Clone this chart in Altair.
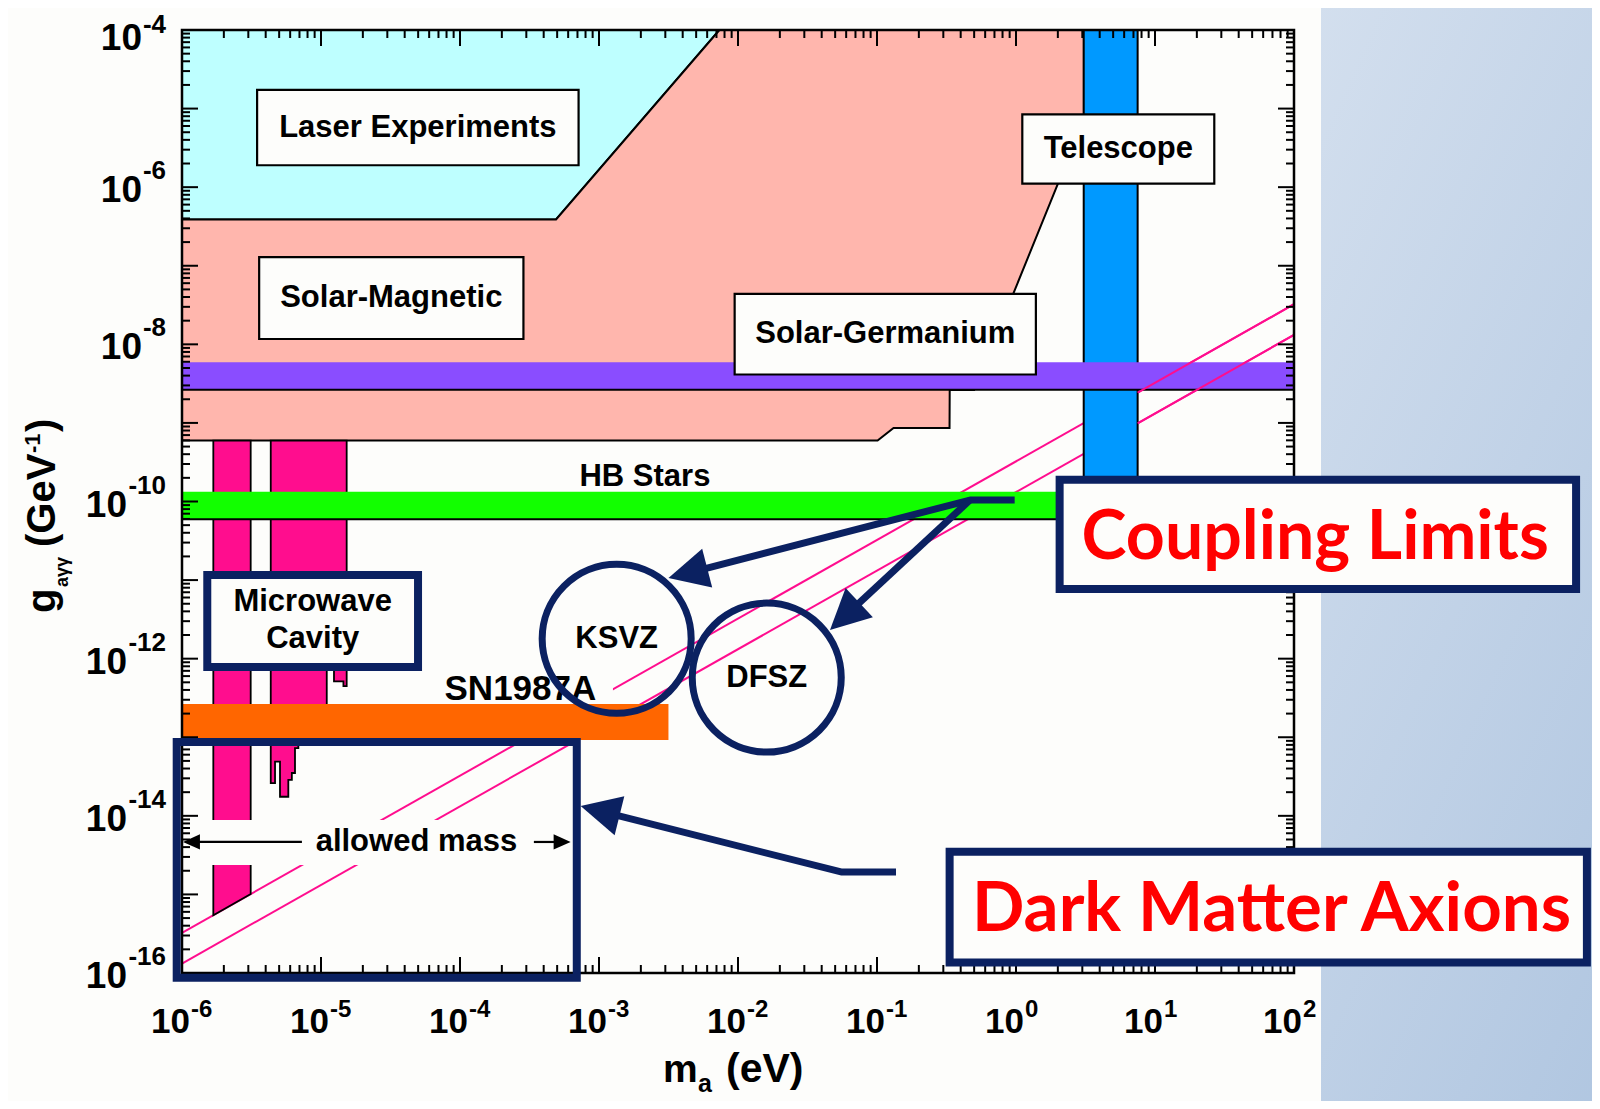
import altair as alt
import pandas as pd

# ------------------------------------------------------------------
# values (axion mass m_a in eV, coupling g in GeV^-1)
# ------------------------------------------------------------------
x_domain = [1e-6, 1e2]
y_domain = [1e-16, 1e-4]

# Laser experiments (cyan region)
laser_m = [1e-6, 4.91e-4, 7.35e-3]
laser_lo = [3.89e-7, 3.89e-7, 1e-4]
laser_hi = [1e-4, 1e-4, 1e-4]

# Solar-magnetic / solar-germanium exclusion (salmon region)
solar_m = [1e-6, 4.91e-4, 7.35e-3, 0.101, 0.1315, 0.3325, 0.3335, 0.50, 0.955, 2.0, 3.08]
solar_lo = [5.96e-10, 5.96e-10, 5.96e-10, 5.96e-10, 8.61e-10, 8.61e-10,
            2.63e-9, 2.63e-9, 4.39e-8, 1.10e-6, 7.94e-6]
solar_hi = [3.89e-7, 3.89e-7, 1e-4, 1e-4, 1e-4, 1e-4, 1e-4, 1e-4, 1e-4, 1e-4, 1e-4]

# microwave cavity exclusions
cav_top = 5.96e-10
cav1_m = [1.68e-6, 3.12e-6]
cav1_lo = [5.43e-16, 1.01e-15]
cav2_m = [4.35e-6, 4.67e-6, 5.07e-6, 5.82e-6, 6.17e-6, 6.50e-6, 6.87e-6,
          1.10e-5, 1.24e-5, 1.45e-5, 1.53e-5]
cav2_lo = [2.61e-14, 4.89e-14, 1.75e-14, 2.86e-14, 3.51e-14, 7.29e-14, 8.71e-14,
           1e-12, 5.13e-13, 4.47e-13, 4.47e-13]

# horizontal bands
purple_g = [2.64e-9, 5.92e-9]
hb_g = [5.93e-11, 1.33e-10]
sn_g = [9.23e-14, 2.65e-13]
sn_m_max = 3.16e-3

# telescope band
tel_m = [3.07, 7.5]
tel_g = [1e-10, 1e-4]

# model lines g = coef * m
models = ["KSVZ", "DFSZ"]
model_coef = [3.24e-10, 1.32e-10]

# labelled boxes (black frame)
box_labels = ["Laser Experiments", "Solar-Magnetic", "Solar-Germanium", "Telescope"]
box_x1 = [3.47e-6, 3.59e-6, 9.46e-3, 1.11]
box_x2 = [7.13e-4, 2.86e-4, 1.39, 26.7]
box_y1 = [1.90e-6, 1.17e-8, 4.13e-9, 1.11e-6]
box_y2 = [1.73e-5, 1.29e-7, 4.39e-8, 8.45e-6]

free_labels = ["HB Stars", "SN1987A"]
free_x = [2.14e-3, 2.72e-4]
free_y = [2.08e-10, 4.13e-13]
free_size = [31, 35]

sn_bg_m = [7.18e-5, 1.26e-3]
sn_bg_g = [2.65e-13, 6.76e-13]
strip_m = [1e-6, 5.69e-4]
strip_g = [2.37e-15, 8.85e-15]
allowed_label_m = 4.86e-5
allowed_label_g = 4.65e-15
allowed_arrow_m = [[7.29e-6, 1.2e-6], [3.40e-4, 5.33e-4]]
allowed_tip_m = [1.016e-6, 6.25e-4]
allowed_tip_angle = [270, 90]

# annotation overlays (navy)
nav_box_name = ["cavity", "coupling", "dark"]
nav_box_x1 = [1.52e-6, 2.06, 0.333]
nav_box_x2 = [4.99e-5, 1.07e4, 1.28e4]
nav_box_y1 = [7.83e-13, 7.69e-12, 1.36e-16]
nav_box_y2 = [1.16e-11, 1.89e-10, 3.48e-15]
allowed_box = [9.16e-7, 6.92e-4, 8.71e-17, 8.69e-14]

cavity_text = ["Microwave", "Cavity"]
cavity_text_x = [8.71e-6, 8.71e-6]
cavity_text_y = [5.26e-12, 1.78e-12]

circle_text = ["KSVZ", "DFSZ"]
circle_x = [1.34e-3, 0.0161]
circle_y = [1.79e-12, 5.74e-13]

red_text = ["Coupling Limits", "Dark Matter Axions"]
red_x = [142.0, 68.9]
red_y = [1.85e-11, 3.46e-16]
red_size = [68, 69]

arrow_id = ["a", "a", "a", "b", "b", "c", "c", "c"]
arrow_m = [0.978, 0.4667, 4.36e-3, 0.4667, 0.0586, 0.137, 0.0551, 1.02e-3]
arrow_g = [1.044e-10, 1.044e-10, 1.23e-11, 1.044e-10, 3.45e-12, 1.93e-15, 1.93e-15, 1.15e-14]
tip_m = [3.16e-3, 0.0459, 7.38e-4]
tip_g = [1.06e-11, 2.32e-12, 1.33e-14]
tip_angle = [255.5, 227.0, 284.0]

# axis ticks
x_major = [10.0 ** e for e in range(-6, 3)]
x_exp = [str(e) for e in range(-6, 3)]
x_minor = [k * 10.0 ** e for e in range(-6, 2) for k in range(2, 10)]
y_major = [10.0 ** e for e in range(-16, -3)]
y_minor = [k * 10.0 ** e for e in range(-16, -4) for k in range(2, 10)]
y_lab = [10.0 ** e for e in range(-16, -3, 2)]
y_exp = [str(e) for e in range(-16, -3, 2)]

# ------------------------------------------------------------------
W, H = 1112, 943
FONT = "Liberation Sans"
NAVY = "#0B2161"
WHITE = "#FDFDFB"
MAG = "#FF0D8E"

XS = alt.Scale(type="log", domain=x_domain, nice=False)
YS = alt.Scale(type="log", domain=y_domain, nice=False)


def X(f):
    return alt.X(f, type="quantitative", scale=XS, axis=None)


def Y(f):
    return alt.Y(f, type="quantitative", scale=YS, axis=None)


one = pd.DataFrame({"k": [0]})
layers = []

# right gradient panel (page decoration)
grad = alt.LinearGradient(
    gradient="linear",
    stops=[alt.GradientStop(color="#D3DFEE", offset=0), alt.GradientStop(color="#A2BCDB", offset=1)],
    x1=0, x2=1, y1=0, y2=1)
layers.append(alt.Chart(one).mark_rect(fill=grad).encode(
    x=alt.value(1139), x2=alt.value(1700), y=alt.value(-40), y2=alt.value(1200)))

# regions
layers.append(alt.Chart(pd.DataFrame({"m": laser_m, "lo": laser_lo, "hi": laser_hi}))
              .mark_area(color="#BEFFFF", stroke="black", strokeWidth=2, opacity=1)
              .encode(x=X("m"), y=Y("lo"), y2="hi"))
layers.append(alt.Chart(pd.DataFrame({"m": solar_m, "lo": solar_lo, "hi": solar_hi}))
              .mark_area(color="#FFB6AD", stroke="black", strokeWidth=2, opacity=1)
              .encode(x=X("m"), y=Y("lo"), y2="hi"))

# model lines (first pass)
lines_df = pd.DataFrame({"model": models * 2, "coef": model_coef * 2,
                         "m": [x_domain[0]] * 2 + [x_domain[1]] * 2})
layers.append(alt.Chart(lines_df).transform_calculate(g="datum.coef*datum.m")
              .mark_line(color=MAG, strokeWidth=2).encode(x=X("m"), y=Y("g"), detail="model:N"))

# microwave cavity bars
layers.append(alt.Chart(pd.DataFrame({"m": cav1_m, "lo": cav1_lo, "hi": [cav_top] * 2}))
              .mark_area(color=MAG, stroke="black", strokeWidth=1.8, opacity=1)
              .encode(x=X("m"), y=Y("lo"), y2="hi"))
layers.append(alt.Chart(pd.DataFrame({"m": cav2_m, "lo": cav2_lo, "hi": [cav_top] * len(cav2_m)}))
              .mark_area(color=MAG, stroke="black", strokeWidth=1.8, interpolate="step-after", opacity=1)
              .encode(x=X("m"), y=Y("lo"), y2="hi"))

# HB band
hb = pd.DataFrame({"x1": [x_domain[0]], "x2": [x_domain[1]], "y1": [hb_g[0]], "y2": [hb_g[1]]})
layers.append(alt.Chart(hb).mark_rect(fill="#12FF00").encode(x=X("x1"), x2="x2", y=Y("y1"), y2="y2"))
layers.append(alt.Chart(hb).mark_rule(color="black", strokeWidth=2).encode(x=X("x1"), x2="x2", y=Y("y1")))

# SN1987A band
sn = pd.DataFrame({"x1": [x_domain[0]], "x2": [sn_m_max], "y1": [sn_g[0]], "y2": [sn_g[1]]})
layers.append(alt.Chart(sn).mark_rect(fill="#FF6600").encode(x=X("x1"), x2="x2", y=Y("y1"), y2="y2"))

# telescope band
tel = pd.DataFrame({"x1": [tel_m[0]], "x2": [tel_m[1]], "y1": [tel_g[0]], "y2": [tel_g[1]]})
layers.append(alt.Chart(tel).mark_rect(fill="#0099FF", stroke="black", strokeWidth=2)
              .encode(x=X("x1"), x2="x2", y=Y("y1"), y2="y2"))

# purple band
pb = pd.DataFrame({"x1": [x_domain[0]], "x2": [x_domain[1]], "y1": [purple_g[0]], "y2": [purple_g[1]]})
layers.append(alt.Chart(pb).mark_rect(fill="#8A4DFF").encode(x=X("x1"), x2="x2", y=Y("y1"), y2="y2"))
layers.append(alt.Chart(pb).mark_rule(color="black", strokeWidth=2).encode(x=X("x1"), x2="x2", y=Y("y1")))

# model lines (part right of the telescope band, above the purple band)
lines2 = pd.DataFrame({"model": models * 2, "coef": model_coef * 2,
                       "m": [tel_m[1]] * 2 + [x_domain[1]] * 2})
layers.append(alt.Chart(lines2).transform_calculate(g="datum.coef*datum.m")
              .mark_line(color=MAG, strokeWidth=2).encode(x=X("m"), y=Y("g"), detail="model:N"))

# white backgrounds of labels
wb = pd.DataFrame({"x1": [strip_m[0], sn_bg_m[0]], "x2": [strip_m[1], sn_bg_m[1]],
                   "y1": [strip_g[0], sn_bg_g[0]], "y2": [strip_g[1], sn_bg_g[1]]})
layers.append(alt.Chart(wb).mark_rect(fill=WHITE).encode(x=X("x1"), x2="x2", y=Y("y1"), y2="y2"))

# black-framed label boxes
boxes = pd.DataFrame({"t": box_labels, "x1": box_x1, "x2": box_x2, "y1": box_y1, "y2": box_y2})
layers.append(alt.Chart(boxes).mark_rect(fill=WHITE, stroke="black", strokeWidth=2.2)
              .encode(x=X("x1"), x2="x2", y=Y("y1"), y2="y2"))
layers.append(alt.Chart(boxes)
              .transform_calculate(cx="sqrt(datum.x1*datum.x2)", cy="sqrt(datum.y1*datum.y2)")
              .mark_text(font=FONT, fontWeight="bold", fontSize=31, baseline="middle", align="center", color="black")
              .encode(x=X("cx"), y=Y("cy"), text="t:N"))

free = pd.DataFrame({"t": free_labels, "x": free_x, "y": free_y, "s": free_size})
layers.append(alt.Chart(free).mark_text(font=FONT, fontWeight="bold", baseline="middle", align="center", color="black")
              .encode(x=X("x"), y=Y("y"), text="t:N", size=alt.Size("s:Q", scale=None)))

# allowed mass label + arrows
layers.append(alt.Chart(pd.DataFrame({"t": ["allowed mass"], "x": [allowed_label_m], "y": [allowed_label_g]}))
              .mark_text(font=FONT, fontWeight="bold", fontSize=31, baseline="middle", align="center", color="black")
              .encode(x=X("x"), y=Y("y"), text="t:N"))
am = pd.DataFrame({"id": ["l", "l", "r", "r"],
                   "m": allowed_arrow_m[0] + allowed_arrow_m[1],
                   "g": [allowed_label_g] * 4})
layers.append(alt.Chart(am).mark_line(color="black", strokeWidth=2.2)
              .encode(x=X("m"), y=Y("g"), detail="id:N"))
layers.append(alt.Chart(pd.DataFrame({"m": allowed_tip_m, "g": [allowed_label_g] * 2, "a": allowed_tip_angle}))
              .mark_point(shape="M0,0L0.45,1L-0.45,1Z", filled=True, size=1156, color="black", opacity=1)
              .encode(x=X("m"), y=Y("g"), angle=alt.Angle("a:Q", scale=None)))

# ticks
def tick_layers(vals, length):
    d = pd.DataFrame({"v": vals})
    r = dict(color="black", strokeWidth=2)
    return [
        alt.Chart(d).mark_rule(**r).encode(x=X("v"), y=alt.value(H), y2=alt.value(H - length)),
        alt.Chart(d).mark_rule(**r).encode(x=X("v"), y=alt.value(0), y2=alt.value(length)),
    ]


def ytick_layers(vals, length):
    d = pd.DataFrame({"v": vals})
    r = dict(color="black", strokeWidth=2)
    return [
        alt.Chart(d).mark_rule(**r).encode(y=Y("v"), x=alt.value(0), x2=alt.value(length)),
        alt.Chart(d).mark_rule(**r).encode(y=Y("v"), x=alt.value(W), x2=alt.value(W - length)),
    ]


layers += tick_layers(x_major, 16) + tick_layers(x_minor, 8)
layers += ytick_layers(y_major, 16) + ytick_layers(y_minor, 8)
layers.append(alt.Chart(one).mark_rect(fill="white", fillOpacity=0, stroke="black", strokeWidth=2.5)
              .encode(x=alt.value(0), x2=alt.value(W), y=alt.value(0), y2=alt.value(H)))

# navy overlays
nb = pd.DataFrame({"n": nav_box_name, "x1": nav_box_x1, "x2": nav_box_x2, "y1": nav_box_y1, "y2": nav_box_y2})
layers.append(alt.Chart(nb).mark_rect(fill=WHITE, stroke=NAVY, strokeWidth=8)
              .encode(x=X("x1"), x2="x2", y=Y("y1"), y2="y2"))
ab = pd.DataFrame({"x1": [allowed_box[0]], "x2": [allowed_box[1]], "y1": [allowed_box[2]], "y2": [allowed_box[3]]})
layers.append(alt.Chart(ab).mark_rect(fill="white", fillOpacity=0, stroke=NAVY, strokeWidth=8)
              .encode(x=X("x1"), x2="x2", y=Y("y1"), y2="y2"))
layers.append(alt.Chart(pd.DataFrame({"t": cavity_text, "x": cavity_text_x, "y": cavity_text_y}))
              .mark_text(font=FONT, fontWeight="bold", fontSize=31, baseline="middle", align="center", color="black")
              .encode(x=X("x"), y=Y("y"), text="t:N"))
circ = pd.DataFrame({"t": circle_text, "x": circle_x, "y": circle_y})
layers.append(alt.Chart(circ).mark_point(shape="circle", size=22200, filled=False, color=NAVY,
                                         strokeWidth=7, opacity=1)
              .encode(x=X("x"), y=Y("y")))
layers.append(alt.Chart(circ).mark_text(font=FONT, fontWeight="bold", fontSize=31, baseline="middle",
                                        align="center", color="black")
              .encode(x=X("x"), y=Y("y"), text="t:N"))
arr = pd.DataFrame({"id": arrow_id, "m": arrow_m, "g": arrow_g, "i": range(len(arrow_id))})
layers.append(alt.Chart(arr).mark_line(color=NAVY, strokeWidth=7, strokeJoin="round")
              .encode(x=X("m"), y=Y("g"), detail="id:N", order="i:Q"))
layers.append(alt.Chart(pd.DataFrame({"m": tip_m, "g": tip_g, "a": tip_angle}))
              .mark_point(shape="M0,0L0.5,1L-0.5,1Z", filled=True, size=6400, color=NAVY, opacity=1)
              .encode(x=X("m"), y=Y("g"), angle=alt.Angle("a:Q", scale=None)))
layers.append(alt.Chart(pd.DataFrame({"t": red_text, "x": red_x, "y": red_y, "s": red_size}))
              .mark_text(font="Lato", fontWeight="bold", baseline="alphabetic", align="center", color="#FF0000")
              .encode(x=X("x"), y=Y("y"), text="t:N", size=alt.Size("s:Q", scale=None)))

# tick labels
xl = pd.DataFrame({"v": x_major, "e": x_exp})
layers.append(alt.Chart(xl).mark_text(text="10", font=FONT, fontWeight="bold", fontSize=35, align="right",
                                      baseline="alphabetic", dx=8, color="black")
              .encode(x=X("v"), y=alt.value(H + 60)))
layers.append(alt.Chart(xl).mark_text(font=FONT, fontWeight="bold", fontSize=24, align="left",
                                      baseline="alphabetic", dx=9, color="black")
              .encode(x=X("v"), y=alt.value(H + 44), text="e:N"))

yl = pd.DataFrame({"v": y_lab, "e": y_exp, "n": [len(e) for e in y_exp]})
top = "datum.v > 5e-5"
inner = "datum.v < 5e-5"
# exponent: labels below the top one sit higher than the clamped top label
for flt, dy_e, dy_t in [(inner, -8, 15), (top, 3, 20)]:
    layers.append(alt.Chart(yl).transform_filter(flt)
                  .mark_text(font=FONT, fontWeight="bold", fontSize=26, align="right",
                             baseline="alphabetic", dy=dy_e, color="black")
                  .encode(y=Y("v"), x=alt.value(-16), text="e:N"))
    for n, xpos in [(2, -40), (3, -55)]:
        layers.append(alt.Chart(yl).transform_filter(flt).transform_filter(f"datum.n == {n}")
                      .mark_text(text="10", font=FONT, fontWeight="bold", fontSize=37, align="right",
                                 baseline="alphabetic", dy=dy_t, color="black")
                      .encode(y=Y("v"), x=alt.value(xpos)))

# axis titles (pieces for sub/superscripts)
def ptext(t, x, y, size, angle=0):
    return (alt.Chart(one).mark_text(text=t, font=FONT, fontWeight="bold", fontSize=size, angle=angle,
                                     align="left", baseline="alphabetic", color="black")
            .encode(x=alt.value(x), y=alt.value(y)))


layers += [
    ptext("m", 481, 1052, 39), ptext("a", 516, 1062, 25), ptext("(eV)", 544, 1052, 41),
    ptext("g", -127, 583, 40, 270), ptext("aγγ", -114, 557, 18, 270), ptext("(GeV", -127, 517, 40, 270),
    ptext("-1", -142, 423, 22, 270), ptext(")", -127, 402, 40, 270),
]

chart = (alt.layer(*layers)
         .properties(width=W, height=H, autosize=alt.AutoSizeParams(type="none"),
                     padding={"left": 174, "top": 22, "right": 298, "bottom": 128})
         .configure(background=WHITE)
         .configure_view(strokeWidth=0))

chart.save("out.html", embed_options={"renderer": "svg", "actions": False})
